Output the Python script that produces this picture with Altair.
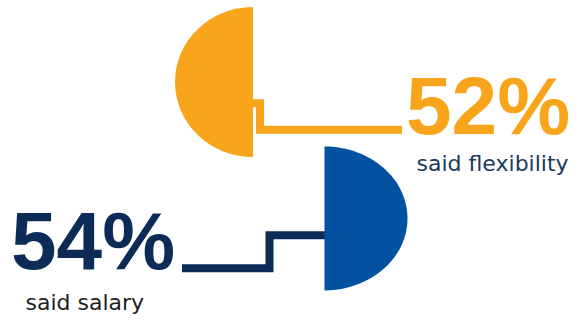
import altair as alt
import pandas as pd

# ---- data ----
shares = ["52%", "54%"]
reasons = ["said flexibility", "said salary"]
series_colors = ["#F9A51B", "#0351A1"]
text_colors = ["#F9A51B", "#0C2C57"]
line_colors = ["#F9A51B", "#0C2C57"]
label_colors = ["#1B3A5E", "#1E1E1E"]

# ---- layout (canvas coordinates, y downward) ----
W, H = 579, 320
half_centers = [(253, 82), (324.5, 218.5)]
half_scale = [78, 83]            # horizontal radius in px
half_paths = [
    "M0,-0.962A1,0.962,0,0,0,0,0.962Z",   # left half
    "M0,-0.866A1,0.866,0,0,1,0,0.866Z",   # right half
]
connectors = [
    [(252, 103.3), (260, 103.3), (260, 129.7), (402, 129.7)],
    [(182, 268.3), (269.5, 268.3), (269.5, 235.3), (325, 235.3)],
]
big_pos = [(406, 133.5), (11, 268.5)]
small_pos = [(416.5, 171), (25.5, 310)]

xs = alt.Scale(domain=[0, W], range=[0, W], nice=False, zero=False)
ys = alt.Scale(domain=[0, H], range=[0, H], nice=False, zero=False)

layers = []

# connectors
for i, pts in enumerate(connectors):
    df = pd.DataFrame({"x": [p[0] for p in pts], "y": [p[1] for p in pts],
                       "o": list(range(len(pts)))})
    layers.append(
        alt.Chart(df).mark_line(color=line_colors[i], strokeWidth=8,
                                strokeCap="butt", strokeJoin="miter")
        .encode(x=alt.X("x:Q", scale=xs, axis=None),
                y=alt.Y("y:Q", scale=ys, axis=None),
                order="o:O")
    )

# half discs
for i in range(2):
    df = pd.DataFrame({"x": [half_centers[i][0]], "y": [half_centers[i][1]],
                       "share": [shares[i]]})
    s = (2 * half_scale[i]) ** 2
    layers.append(
        alt.Chart(df).mark_point(shape=half_paths[i], filled=True,
                                 fill=series_colors[i], opacity=1,
                                 strokeWidth=0, size=s)
        .encode(x=alt.X("x:Q", scale=xs, axis=None),
                y=alt.Y("y:Q", scale=ys, axis=None))
    )

# big numbers
for i in range(2):
    df = pd.DataFrame({"x": [big_pos[i][0]], "y": [big_pos[i][1]],
                       "t": [shares[i]]})
    layers.append(
        alt.Chart(df).mark_text(font="Liberation Sans", fontWeight="bold",
                                fontSize=82, align="left",
                                baseline="alphabetic", color=text_colors[i])
        .encode(x=alt.X("x:Q", scale=xs, axis=None),
                y=alt.Y("y:Q", scale=ys, axis=None),
                text="t:N")
    )

# small labels
for i in range(2):
    df = pd.DataFrame({"x": [small_pos[i][0]], "y": [small_pos[i][1]],
                       "t": [reasons[i]]})
    layers.append(
        alt.Chart(df).mark_text(font="DejaVu Sans", fontSize=22,
                                align="left", baseline="alphabetic",
                                color=label_colors[i])
        .encode(x=alt.X("x:Q", scale=xs, axis=None),
                y=alt.Y("y:Q", scale=ys, axis=None),
                text="t:N")
    )

chart = (
    alt.layer(*layers)
    .properties(width=W, height=H, padding=0, autosize="none",
                background="white")
    .configure_view(strokeWidth=0)
)

chart.save("out.html", embed_options={"renderer": "svg", "actions": False})
